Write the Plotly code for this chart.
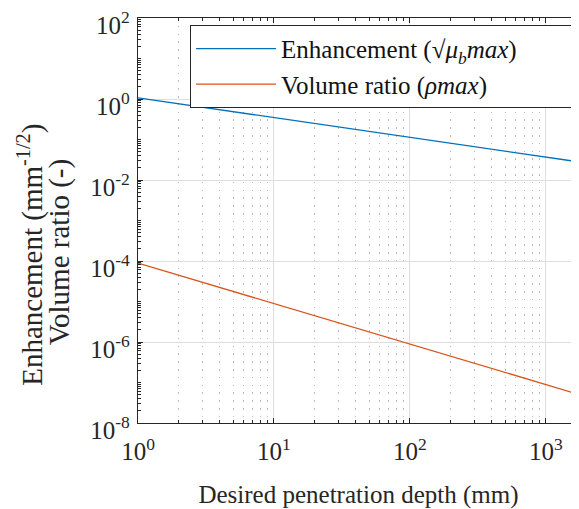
import plotly.graph_objects as go

# Data
depth_mm = [1, 10, 100, 1000, 1740]
enhancement = [1.07, 0.345, 0.111, 0.036, 0.028]
volume_ratio = [8.9e-5, 8.9e-6, 8.8e-7, 8.7e-8, 5.1e-8]

series_names = [
    "Enhancement (√<i>μ<sub>b</sub>max</i>)" + "&nbsp;" * 10,
    "Volume ratio (<i>ρmax</i>)",
]
series_colors = ["#0072BD", "#D95319"]

x_major = [1, 10, 100, 1000]
x_major_text = ["10<sup>0</sup>", "10<sup>1</sup>", "10<sup>2</sup>", "10<sup>3</sup>"]
x_minor = [m * 10 ** k for k in range(0, 4) for m in range(2, 10)]
y_major = [1e2, 1e0, 1e-2, 1e-4, 1e-6, 1e-8]
y_major_text = ["10<sup>2</sup>", "10<sup>0</sup>", "10<sup>-2</sup>",
                "10<sup>-4</sup>", "10<sup>-6</sup>", "10<sup>-8</sup>"]
y_minor = [m * 10.0 ** k for k in range(-8, 2) for m in range(1, 10)
           if not (m == 1 and k % 2 == 0)]
y_title_lines = ["Enhancement (mm<sup>-1/2</sup>)", "Volume ratio (-)"]

FONT = "Liberation Serif, Times New Roman, serif"
fs = 25

fig = go.Figure()
for name, ys, col in zip(series_names, [enhancement, volume_ratio], series_colors):
    fig.add_trace(go.Scatter(x=depth_mm, y=ys, mode="lines", name=name,
                             line=dict(color=col, width=1.3)))

# the page body keeps its default 8px margin, so the figure is 8px smaller
fig.update_layout(
    width=571, height=501,
    margin=dict(l=130, r=0, t=10, b=86, autoexpand=False),
    paper_bgcolor="white", plot_bgcolor="white",
    font=dict(family=FONT, size=fs, color="#262626"),
    showlegend=True,
    legend=dict(
        x=1.016, y=0.983, xanchor="right", yanchor="top",
        bordercolor="#262626", borderwidth=1, bgcolor="white",
        font=dict(family=FONT, size=25, color="#111111"),
        itemwidth=80, tracegroupgap=0,
    ),
)

# two-line y-axis title
for txt, xp, yp in zip(y_title_lines, [-0.243, -0.179], [0.415, 0.422]):
    fig.add_annotation(text=txt, xref="paper", yref="paper", x=xp, y=yp,
                       xanchor="center", yanchor="middle", textangle=-90,
                       showarrow=False, font=dict(family=FONT, size=29, color="#262626"))

fig.update_xaxes(
    type="log", range=[0, 3.243], automargin=False,
    tickmode="array", tickvals=x_major, ticktext=x_major_text,
    ticks="inside", ticklen=5, tickcolor="#262626", tickwidth=1,
    ticklabelstandoff=6, ticklabeloverflow="allow",
    showline=True, linecolor="#262626", linewidth=1.3, mirror="allticks",
    showgrid=True, gridcolor="#dedede", gridwidth=1,
    zeroline=False,
    minor=dict(tickmode="array", tickvals=x_minor, ticks="inside", ticklen=3,
               tickcolor="#262626", showgrid=True, gridcolor="#b8b8b8",
               griddash="1.5px,6.3px", gridwidth=1),
    title=dict(text="Desired penetration depth (mm)", standoff=22,
               font=dict(family=FONT, size=fs)),
)

fig.update_yaxes(
    type="log", range=[-8, 2], automargin=False,
    tickmode="array", tickvals=y_major, ticktext=y_major_text,
    ticks="inside", ticklen=5, tickcolor="#262626", tickwidth=1,
    ticklabelstandoff=2, ticklabelshift=7, ticklabeloverflow="allow",
    showline=True, linecolor="#262626", linewidth=1.3, mirror=False,
    showgrid=True, gridcolor="#dedede", gridwidth=1,
    zeroline=False,
    minor=dict(tickmode="array", tickvals=y_minor, ticks="inside", ticklen=3,
               tickcolor="#262626", showgrid=False),
)

fig.write_html("out.html")
